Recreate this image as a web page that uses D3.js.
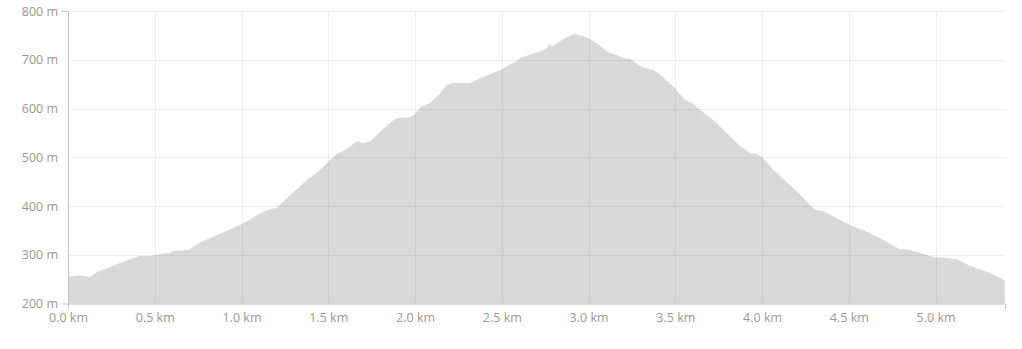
<!DOCTYPE html>
<html>
<head>
    <meta charset="utf-8">
    <script src="https://d3js.org/d3.v7.min.js"></script>
    <style>
        body { margin:0; background:#fff; }
        .axis text { fill:#9c9792; font-family:"Open Sans", sans-serif; font-size:12.5px; }
        .axis path { stroke:#c2c2c2; }
        .grid line { stroke:rgba(0,0,0,0.065); shape-rendering:crispEdges; }
    </style>
</head>
<body>
    <svg id="chart" width="1022" height="349"></svg>

    <script>
        // distance along the route (km) and elevation (m)
        var distance = [0.000,0.069,0.098,0.127,0.165,0.242,0.338,0.415,0.463,0.511,0.588,0.607,0.693,0.761,0.876,
            0.934,1.010,1.107,1.164,1.203,1.261,1.376,1.452,1.500,1.549,1.587,1.664,1.671,1.693,1.741,1.798,1.875,
            1.895,1.971,2.000,2.029,2.096,2.144,2.183,2.221,2.259,2.317,2.375,2.451,2.509,2.548,2.586,2.605,2.663,
            2.720,2.759,2.774,2.788,2.846,2.893,2.922,2.961,2.999,3.047,3.105,3.163,3.201,3.239,3.287,3.316,3.373,
            3.412,3.489,3.556,3.595,3.643,3.719,3.797,3.873,3.931,3.969,4.007,4.065,4.161,4.219,4.257,4.305,4.353,
            4.430,4.507,4.603,4.680,4.738,4.795,4.834,4.892,4.949,4.987,5.064,5.121,5.199,5.295,5.399];
        var elevation = [255,258,256,254,264,275,288,298,297,300,304,308,310,325,343,
            352,364,385,394,396,416,453,474,491,507,513,532,534,529,532,552,576,
            580,582,588,602,614,631,648,653,652,652,662,673,682,691,697,703,711,
            717,723,732,727,740,749,753,749,744,734,717,710,703,702,689,684,679,
            669,645,617,612,597,576,549,523,508,507,498,474,443,423,409,392,390,
            375,361,347,334,322,311,311,306,300,295,294,291,277,265,248];
        var xTicks = [0, 0.5, 1.0, 1.5, 2.0, 2.5, 3.0, 3.5, 4.0, 4.5, 5.0];
        var yTicks = [200, 300, 400, 500, 600, 700, 800];

        var svg = d3.select("#chart");
        var plotLeft = 68, plotRight = 1005, plotTop = 11, plotBottom = 303.5;

        var x = d3.scaleLinear().domain([0, 5.4]).range([plotLeft, plotRight]);
        var y = d3.scaleLinear().domain([200, 800]).range([plotBottom, plotTop]);

        var points = distance.map(function(d, i){ return [d, elevation[i]]; });

        var area = d3.area()
            .x(function(d){ return x(d[0]); })
            .y0(y(200))
            .y1(function(d){ return y(d[1]); });

        svg.append("path")
            .datum(points)
            .attr("d", area)
            .attr("fill", "#d9d9d9");

        // grid drawn over the area so it shows darker on the grey fill
        var grid = svg.append("g").attr("class", "grid");
        grid.selectAll("line.h").data(yTicks.slice(1)).enter().append("line")
            .attr("class", "h")
            .attr("x1", plotLeft).attr("x2", plotRight)
            .attr("y1", function(d){ return Math.round(y(d)) + 0.5; })
            .attr("y2", function(d){ return Math.round(y(d)) + 0.5; });
        grid.selectAll("line.v").data(xTicks.slice(1)).enter().append("line")
            .attr("class", "v")
            .attr("y1", plotTop).attr("y2", plotBottom)
            .attr("x1", function(d){ return Math.round(x(d)) + 0.5; })
            .attr("x2", function(d){ return Math.round(x(d)) + 0.5; });

        svg.append("g")
            .attr("class", "axis")
            .attr("transform", "translate(0," + plotBottom + ")")
            .call(d3.axisBottom(x).tickValues(xTicks)
                .tickFormat(function(d){ return d3.format(".1f")(d) + " km"; })
                .tickSizeInner(0).tickSizeOuter(6).tickPadding(10))
            .call(function(g){ g.selectAll(".tick line").remove(); });

        svg.append("g")
            .attr("class", "axis")
            .attr("transform", "translate(" + plotLeft + ",0)")
            .call(d3.axisLeft(y).tickValues(yTicks)
                .tickFormat(function(d){ return d + " m"; })
                .tickSizeInner(0).tickSizeOuter(6).tickPadding(10))
            .call(function(g){ g.selectAll(".tick line").remove(); });
    </script>
</body>
</html>
